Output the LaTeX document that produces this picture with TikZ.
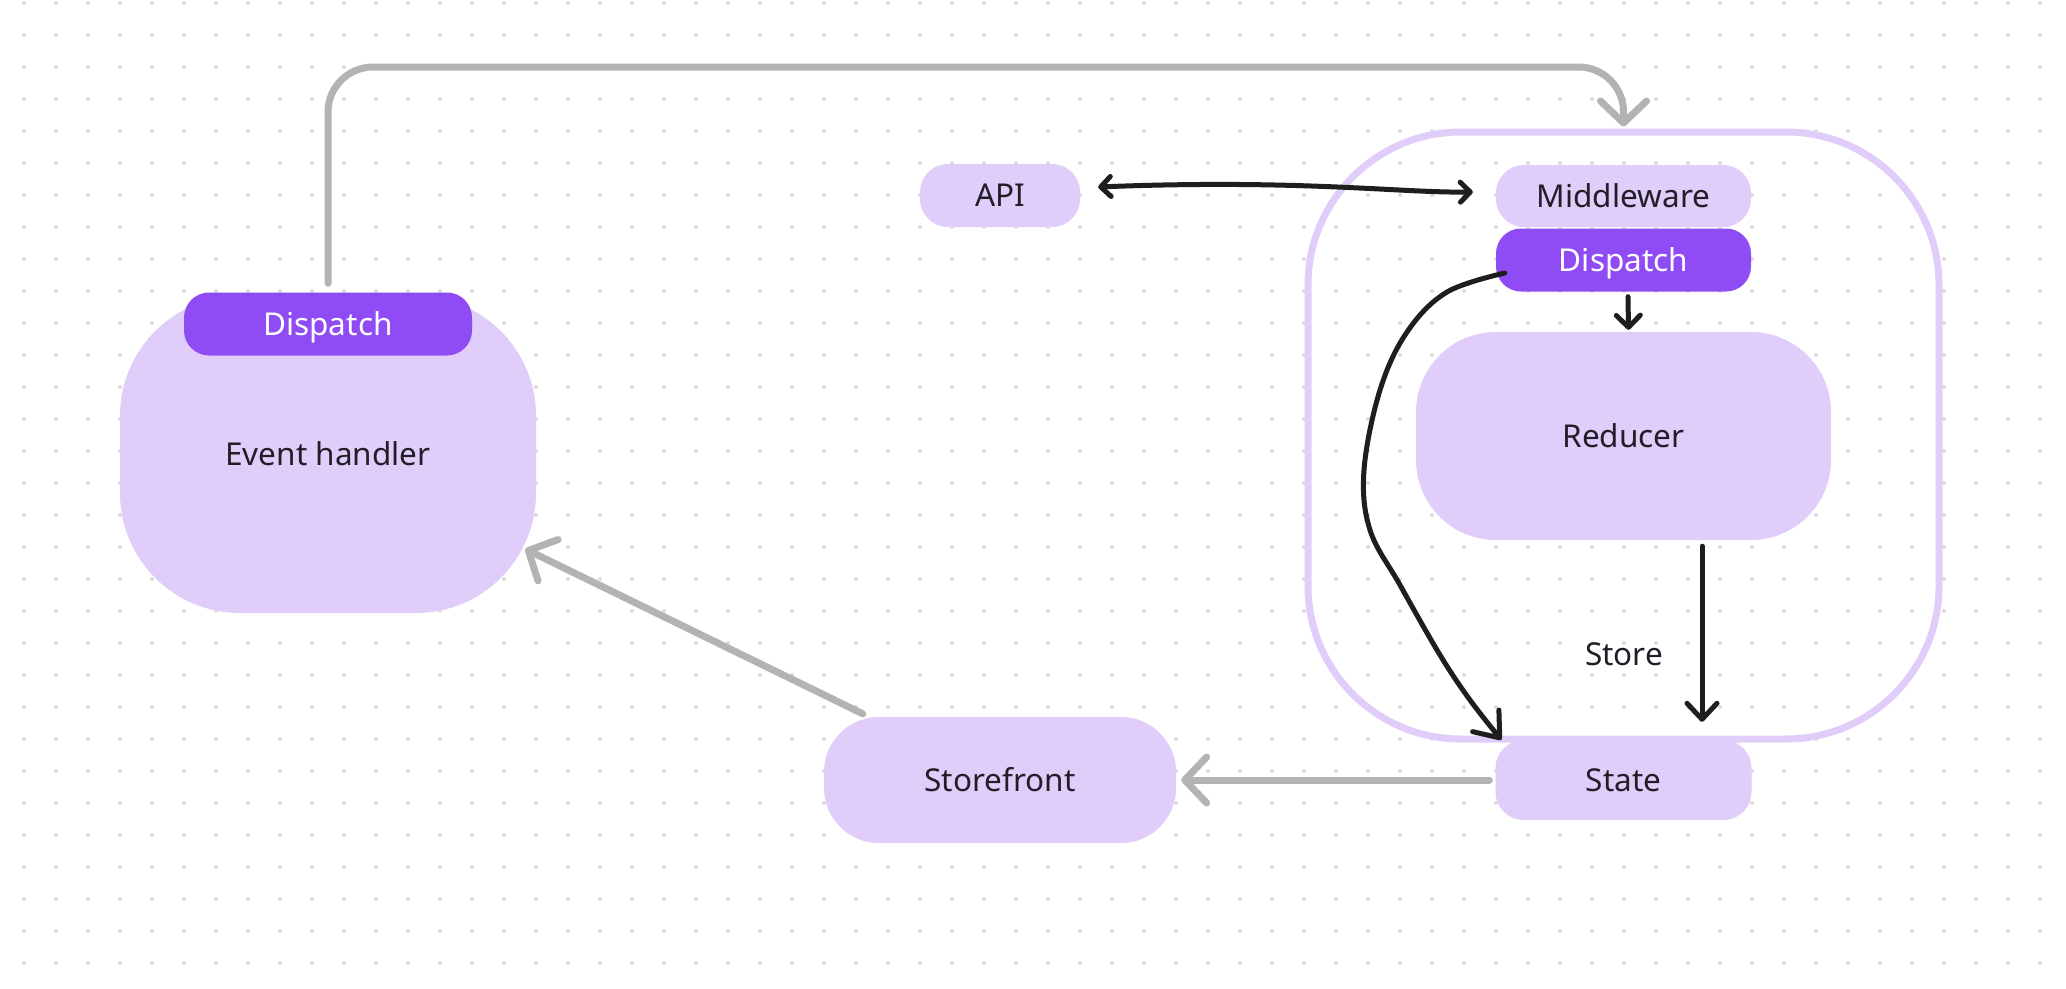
\documentclass[tikz,border=0pt]{standalone}
\usepackage{fontspec}
\setmainfont{Noto Sans}
\usetikzlibrary{arrows.meta}
\definecolor{lilac}{HTML}{E0CDFA}
\definecolor{dispviolet}{HTML}{8F4CF5}
\definecolor{ink}{HTML}{1E1E1E}
\definecolor{inkt}{HTML}{221E27}
\definecolor{wire}{HTML}{B3B3B3}
\definecolor{dotgrey}{HTML}{DCDCDC}
\begin{document}
\begin{tikzpicture}[x=1pt,y=-1pt,
    lbl/.style={text=inkt,inner sep=0pt,text height=22.5pt,text depth=0pt,
      font=\fontsize{31.5}{38}\selectfont},
    box/.style={lbl,fill=lilac,rounded corners=#1},
    box/.default=28pt,
    disp/.style={box=25pt,fill=dispviolet,text=white},
    gry/.style={draw=wire,line width=7pt,line cap=round,line join=round,
      -{Straight Barb[length=22pt,width=46pt,round]}},
    blk/.style={draw=ink,line width=5pt,line cap=round,line join=round}]
  \fill[white] (0,0) rectangle (2066,988);
  \useasboundingbox (0,0) rectangle (2066,988);
  \foreach \i in {0,...,63}
    \foreach \j in {0,...,30}
      \fill[dotgrey] (24+32*\i,3+32*\j) circle[radius=2pt];
  \node[draw=lilac,line width=7pt,rounded corners=153pt,
    minimum width=631pt,minimum height=607pt] (store) at (1623.5,435.5) {};
  \node[box=120pt,minimum width=416pt,minimum height=317pt] (evh) at (328,454.5) {Event handler};
  \node[disp,minimum width=288pt,minimum height=63pt] (disp1) at (328,324) {Dispatch};
  \node[box,minimum width=160pt,minimum height=63pt] (api) at (1000,195.5) {API};
  \node[box,minimum width=255pt,minimum height=62pt] (mw) at (1623.5,196) {Middleware};
  \node[disp,minimum width=255pt,minimum height=63pt] (disp2) at (1623.5,260) {Dispatch};
  \node[box=80pt,minimum width=415pt,minimum height=208pt] (red) at (1623.5,436) {Reducer};
  \node[box,minimum width=256pt,minimum height=80pt] (state) at (1623.5,780) {State};
  \node[box=55pt,minimum width=352pt,minimum height=126pt] (sf) at (1000,780) {Storefront};
  \node[lbl] (storelbl) at (1624,654) {Store};
  \begin{scope}
    \draw[gry,rounded corners=45pt] ([yshift=9pt]disp1.north) |- ([yshift=61.5pt]store.north) -- ([yshift=2pt]store.north);
    \draw[gry] ([xshift=-6pt]state.west) -- ([xshift=5pt]sf.east);
    \draw[gry] ([xshift=39pt,yshift=3pt]sf.north west) -- ([xshift=-11pt,yshift=-94.5pt]evh.east);
  \end{scope}
  \begin{scope}
    \draw[blk,{Straight Barb[length=10pt,width=20pt,round]}-{Straight Barb[length=10pt,width=20pt,round]}]
      ([xshift=18pt,yshift=8.5pt]api.east) .. controls (1300,179) and (1400,193) .. ([xshift=-23pt,yshift=4pt]mw.west);
    \draw[blk,-{Straight Barb[length=12pt,width=24pt,round]}] ([xshift=4.5pt,yshift=-5pt]disp2.south) -- ([xshift=5pt,yshift=2pt]red.north);
    \draw[blk,-{Straight Barb[length=16pt,width=30pt,round]}] ([xshift=78.5pt,yshift=-6pt]red.south) -- ([xshift=78.5pt,yshift=18pt]state.north);
    \draw[blk,-{Straight Barb[length=22pt,width=34pt,round]}] plot[smooth,tension=0.6] coordinates {([xshift=9pt,yshift=-13pt]disp2.west) (1447,292) (1407,332) (1380,390) (1364,470) (1370,530) (1400,585) (1440,655) (1470,700) ([xshift=6pt]state.north west)};
  \end{scope}
\end{tikzpicture}
\end{document}
